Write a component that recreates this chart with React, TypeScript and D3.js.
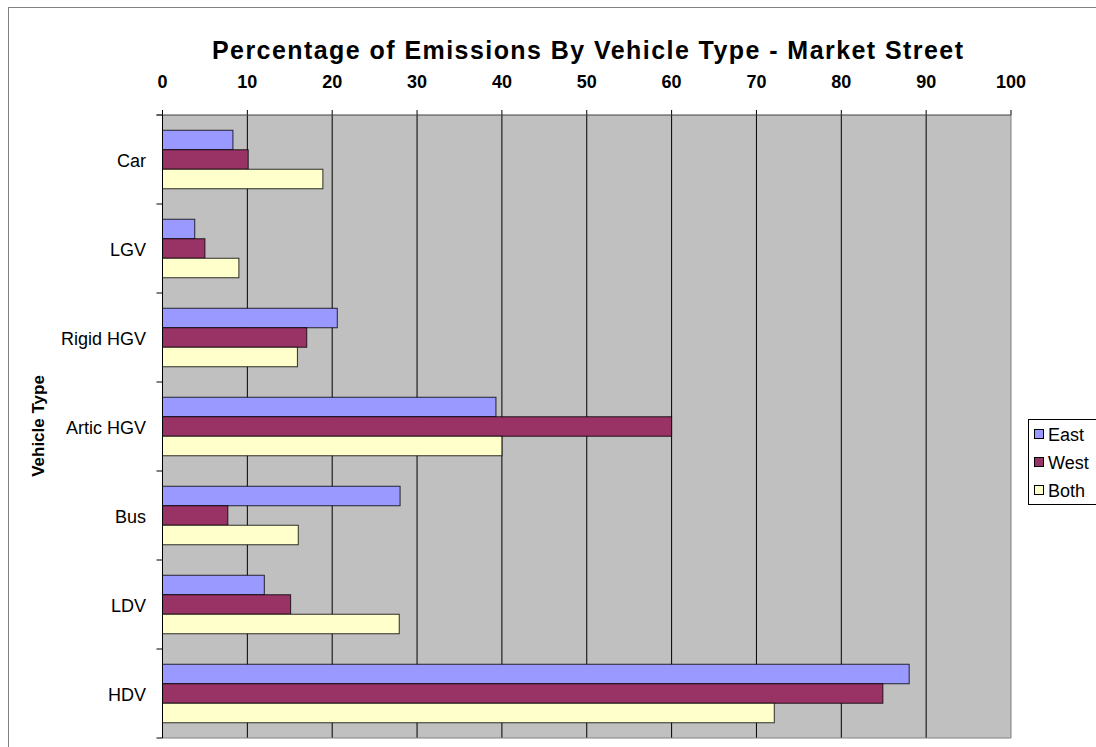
import React from "react";
import * as d3 from "d3";

const categories = ["Car", "LGV", "Rigid HGV", "Artic HGV", "Bus", "LDV", "HDV"];
const seriesNames = ["East", "West", "Both"];
const eastValues = [8.3, 3.8, 20.6, 39.3, 28.0, 12.0, 88.0];
const westValues = [10.1, 5.0, 17.0, 60.0, 7.7, 15.1, 84.9];
const bothValues = [18.9, 9.0, 15.9, 40.0, 16.0, 27.9, 72.1];
const xTicks = [0, 10, 20, 30, 40, 50, 60, 70, 80, 90, 100];
const colors = ["#9999FF", "#993366", "#FFFFCC"];

export default function App() {
  const W = 1096, H = 747;
  const left = 162.5, right = 1011, top = 115, bottom = 738;
  const x = d3.scaleLinear().domain([0, 100]).range([left, right]);
  const y = d3.scaleBand<string>().domain(categories).range([top, bottom]);
  const inner = d3.scaleBand<string>().domain(seriesNames).range([0, 58.5]);
  const series = [eastValues, westValues, bothValues];
  const font = "'Liberation Sans', Arial, sans-serif";
  const bw = y.bandwidth();
  return (
    <svg width={W} height={H} style={{ position: "absolute", left: 0, top: 0, background: "#fff" }} fontFamily={font}>
      <rect x={8.5} y={7.5} width={1200} height={900} fill="#fff" stroke="#808080" strokeWidth={1} />
      <text x={587.5} y={59} textAnchor="middle" fontSize={25} fontWeight="bold" textLength={751} lengthAdjust="spacing">
        Percentage of Emissions By Vehicle Type - Market Street
      </text>
      <rect x={left} y={top} width={right - left} height={bottom - top} fill="#C0C0C0" stroke="none" />
      {xTicks.map((t) => (
        <g key={t}>
          {t > 0 && t < 100 && (
            <line x1={x(t)} x2={x(t)} y1={top} y2={bottom} stroke="#000" strokeWidth={1} />
          )}
          <line x1={x(t)} x2={x(t)} y1={top - 5} y2={top} stroke="#000" strokeWidth={1} />
          <text x={x(t)} y={88} textAnchor="middle" fontSize={18} fontWeight="bold">
            {t}
          </text>
        </g>
      ))}
      <line x1={right} x2={right} y1={top} y2={bottom} stroke="#808080" strokeWidth={1} />
      <line x1={left} x2={right} y1={bottom} y2={bottom} stroke="#808080" strokeWidth={1} />
      {categories.map((c, i) => (
        <g key={c}>
          {series.map((vals, s) => (
            <rect
              key={s}
              x={left}
              y={(y(c) as number) + (bw - 58.5) / 2 + (inner(seriesNames[s]) as number)}
              width={x(vals[i]) - left}
              height={inner.bandwidth()}
              fill={colors[s]}
              stroke="#000"
              strokeWidth={1}
              strokeOpacity={0.8}
            />
          ))}
          <text x={146} y={(y(c) as number) + bw / 2 + 7} textAnchor="end" fontSize={18}>
            {c}
          </text>
        </g>
      ))}
      {d3.range(categories.length + 1).map((i) => {
        const yy = i < categories.length ? (y(categories[i]) as number) : bottom;
        return <line key={i} x1={left - 6} x2={left} y1={yy} y2={yy} stroke="#000" strokeWidth={1} />;
      })}
      <line x1={left - 6} x2={right} y1={top} y2={top} stroke="#404040" strokeWidth={1} />
      <line x1={left} x2={left} y1={top} y2={bottom} stroke="#000" strokeWidth={1} />
      <text
        transform={`translate(44, 426) rotate(-90)`}
        textAnchor="middle"
        fontSize={17}
        fontWeight="bold"
      >
        Vehicle Type
      </text>
      <rect x={1028.5} y={419.5} width={100} height={85} fill="#fff" stroke="#000" strokeWidth={1} />
      {seriesNames.map((n, s) => (
        <g key={n}>
          <rect x={1034.5} y={429.5 + s * 28} width={9} height={9} fill={colors[s]} stroke="#000" strokeWidth={1} />
          <text x={1048} y={441 + s * 28} fontSize={18}>
            {n}
          </text>
        </g>
      ))}
    </svg>
  );
}
